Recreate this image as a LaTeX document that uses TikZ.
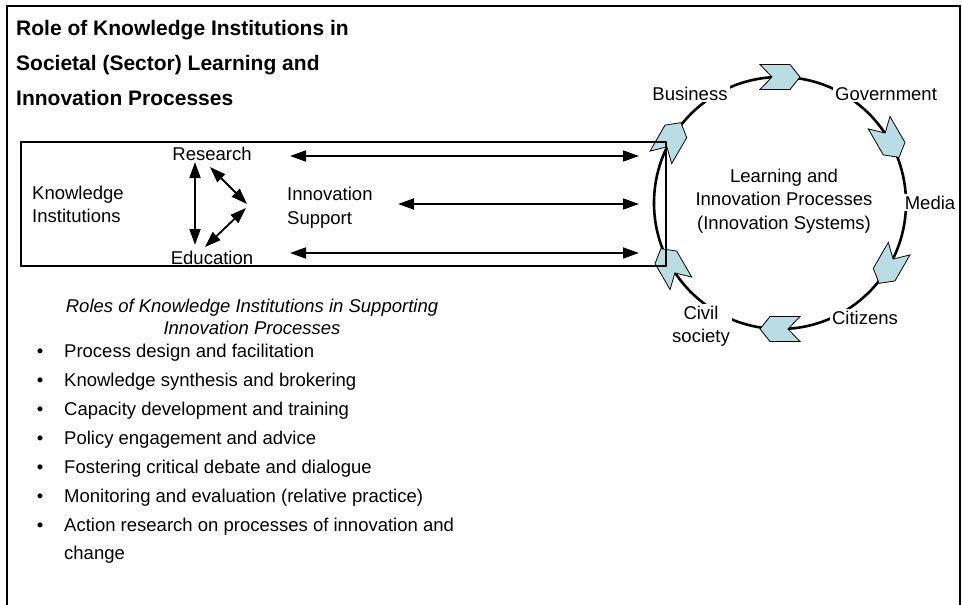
\documentclass[tikz,border=0pt]{standalone}
\usepackage{fontspec}
\setmainfont{Liberation Sans}
\usetikzlibrary{arrows.meta,calc}
\definecolor{chev}{RGB}{184,221,226}
\begin{document}
\begin{tikzpicture}[x=1pt,y=-1pt,
  txt/.style={font=\fontsize{18.5}{23}\selectfont, inner sep=0pt},
  ring/.style={txt, fill=white, inner sep=2pt},
  ttl/.style={font=\fontsize{21}{24}\selectfont\bfseries, inner sep=0pt, anchor=base west},
  itl/.style={txt, font=\fontsize{18.5}{23}\selectfont\itshape, anchor=base},
  dbl/.style={{Triangle[length=16pt,width=11pt]}-{Triangle[length=16pt,width=11pt]}, line width=1.8pt},
  chevron/.style={fill=chev, draw=black, line width=0.8pt}]
\useasboundingbox (0,0) rectangle (962,605);
% outer frame (open at the bottom)
\draw[line width=2.5pt] (7,612) -- (7,6) -- (960,6) -- (960,612);
% title
\node[ttl] (t1) at (16,35) {Role of Knowledge Institutions in};
\node[ttl] (t2) at (16,70) {Societal (Sector) Learning and};
\node[ttl] (t3) at (16,105) {Innovation Processes};
% circle
\coordinate (cc) at (780,203);
\draw[line width=2.6pt] (cc) circle[radius=126];
% circle labels (white boxes interrupt the ring)
\node[ring, anchor=base] (bus) at (690,100) {Business};
\node[ring, anchor=base] (gov) at (886,100) {Government};
\node[ring, anchor=base] (med) at (930,209) {Media};
\node[ring, anchor=base] (cit) at (865,324) {Citizens};
\node[ring, align=center] (civ) at (701,326) {Civil\\society};
% chevrons on the ring
\foreach \a in {90,30,-30,-90,-150,150} {
  \begin{scope}[shift={({780+126*cos(\a)},{203-126*sin(\a)})}, rotate={\a-90}]
    \draw[chevron] (-20,-12.5) -- (10,-12.5) -- (20,0) -- (10,12.5) -- (-20,12.5) -- (-8,0) -- cycle;
  \end{scope}
}
\node[txt, anchor=base] (lp1) at (784,182) {Learning and};
\node[txt, anchor=base] (lp2) at (784,205) {Innovation Processes};
\node[txt, anchor=base] (lp3) at (784,229) {(Innovation Systems)};
% inner box
\draw[line width=1.2pt] (21,142) rectangle (666,266);
% labels in the box
\node[txt, anchor=base west] (ki1) at (32,199) {Knowledge};
\node[txt, anchor=base west] (ki2) at (32,222) {Institutions};
\node[txt, anchor=base] (res) at (212,160) {Research};
\node[txt, anchor=base] (edu) at (212,264) {Education};
\node[txt, anchor=base west] (is1) at (287,200) {Innovation};
\node[txt, anchor=base west] (is2) at (287,224) {Support};
% triangle arrows
\coordinate (v1) at (195,162); \coordinate (v2) at (195,245);
\coordinate (d1) at (210,167); \coordinate (d2) at (247,204);
\coordinate (d3) at (246,208); \coordinate (d4) at (205,247);
\draw[dbl] (v1) -- (v2);
\draw[dbl] (d1) -- (d2);
\draw[dbl] (d3) -- (d4);
% horizontal arrows
\coordinate (h1a) at (290,156); \coordinate (h1b) at (639,156);
\coordinate (h2a) at (398,204); \coordinate (h2b) at (639,204);
\coordinate (h3a) at (290,253); \coordinate (h3b) at (639,253);
\draw[dbl] (h1a) -- (h1b);
\draw[dbl] (h2a) -- (h2b);
\draw[dbl] (h3a) -- (h3b);
% roles heading
\node[itl] (rh1) at (252,312) {Roles of Knowledge Institutions in Supporting};
\node[itl] (rh2) at (252,334) {Innovation Processes};
% bullets
\foreach \y/\t [count=\i] in {357/Process design and facilitation,
  386/Knowledge synthesis and brokering,
  415/Capacity development and training,
  444/Policy engagement and advice,
  473/Fostering critical debate and dialogue,
  502/Monitoring and evaluation (relative practice),
  531/Action research on processes of innovation and} {
  \node[txt, anchor=base] (b\i) at (40,\y) {\textbullet};
  \node[txt, anchor=base west] (r\i) at (64,\y) {\t};
}
\node[txt, anchor=base west] (r8) at (64,559) {change};
\end{tikzpicture}
\end{document}
